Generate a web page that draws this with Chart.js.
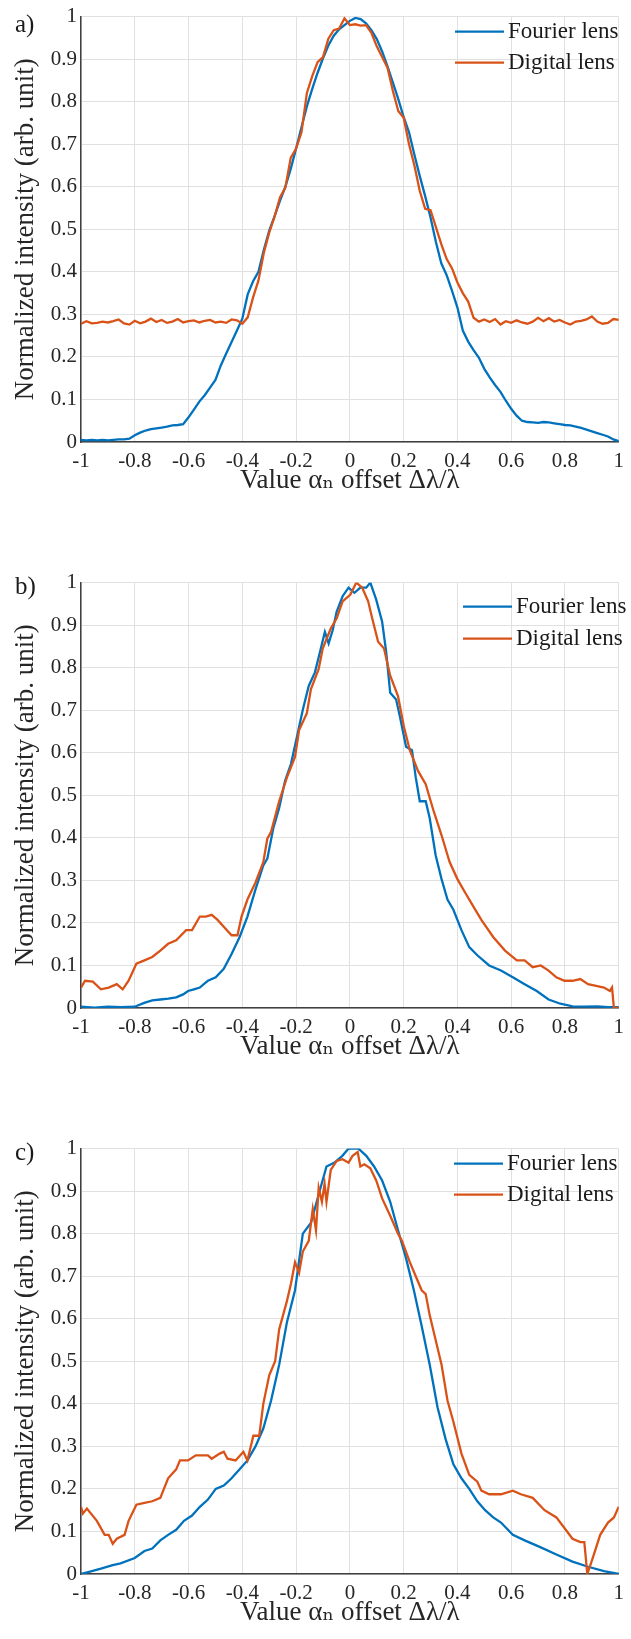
<!DOCTYPE html>
<html>
<head>
<meta charset="utf-8">
<title>Fourier lens vs Digital lens</title>
<script src="https://cdn.jsdelivr.net/npm/chart.js@4.4.1/dist/chart.umd.min.js"></script>
<style>
  html, body { margin: 0; padding: 0; background: #fff; overflow: hidden; }
  .panel { position: relative; width: 631px; height: 566px; }
  .panel canvas { position: absolute; left: 0; top: 0; }
  .tag { position: absolute; left: 15px; z-index: 2; font: 25px "Liberation Serif", serif; color: #1a1a1a; }
</style>
</head>
<body>
<div class="panel"><canvas id="chartA" width="631" height="566"></canvas><span class="tag" style="top:10px">a)</span></div>
<div class="panel"><canvas id="chartB" width="631" height="566"></canvas><span class="tag" style="top:6px">b)</span></div>
<div class="panel"><canvas id="chartC" width="631" height="566"></canvas><span class="tag" style="top:6px">c)</span></div>

<script>
// Panel a) - both curves sampled on the same grid
const xA = [-1, -0.98, -0.96, -0.94, -0.92, -0.9, -0.88, -0.86, -0.84, -0.82,
  -0.8, -0.78, -0.76, -0.74, -0.72, -0.7, -0.68, -0.66, -0.64, -0.62,
  -0.6, -0.58, -0.56, -0.54, -0.52, -0.5, -0.48, -0.46, -0.44, -0.42,
  -0.4, -0.38, -0.36, -0.34, -0.32, -0.3, -0.28, -0.26, -0.24, -0.22,
  -0.2, -0.18, -0.16, -0.14, -0.12, -0.1, -0.08, -0.06, -0.04, -0.02,
  0, 0.02, 0.04, 0.06, 0.08, 0.1, 0.12, 0.14, 0.16, 0.18,
  0.2, 0.22, 0.24, 0.26, 0.28, 0.3, 0.32, 0.34, 0.36, 0.38,
  0.4, 0.42, 0.44, 0.46, 0.48, 0.5, 0.52, 0.54, 0.56, 0.58,
  0.6, 0.62, 0.64, 0.66, 0.68, 0.7, 0.72, 0.74, 0.76, 0.78,
  0.8, 0.82, 0.84, 0.86, 0.88, 0.9, 0.92, 0.94, 0.96, 0.98, 1];
const fourierA = [0.005, 0.004, 0.005, 0.004, 0.005, 0.004, 0.005, 0.006, 0.006, 0.008,
  0.016, 0.022, 0.027, 0.030, 0.032, 0.034, 0.036, 0.039, 0.040, 0.042,
  0.058, 0.076, 0.095, 0.110, 0.128, 0.146, 0.180, 0.208, 0.235, 0.262,
  0.290, 0.347, 0.378, 0.400, 0.452, 0.497, 0.531, 0.567, 0.600, 0.642,
  0.690, 0.740, 0.789, 0.830, 0.868, 0.902, 0.932, 0.955, 0.970, 0.980,
  0.990, 0.997, 0.994, 0.984, 0.968, 0.947, 0.918, 0.883, 0.845, 0.806,
  0.764, 0.728, 0.675, 0.625, 0.578, 0.528, 0.470, 0.420, 0.392, 0.355,
  0.316, 0.262, 0.236, 0.216, 0.198, 0.172, 0.152, 0.134, 0.118, 0.097,
  0.078, 0.062, 0.050, 0.047, 0.046, 0.045, 0.047, 0.046, 0.044, 0.042,
  0.040, 0.039, 0.036, 0.033, 0.029, 0.025, 0.021, 0.017, 0.013, 0.006, 0.002];
const digitalA = [0.278, 0.284, 0.279, 0.280, 0.283, 0.281, 0.284, 0.288, 0.279, 0.276,
  0.285, 0.279, 0.283, 0.290, 0.282, 0.287, 0.280, 0.283, 0.289, 0.281,
  0.284, 0.286, 0.281, 0.285, 0.287, 0.281, 0.283, 0.280, 0.288, 0.286,
  0.278, 0.293, 0.340, 0.380, 0.445, 0.492, 0.530, 0.575, 0.598, 0.668,
  0.690, 0.728, 0.820, 0.860, 0.893, 0.905, 0.948, 0.968, 0.972, 0.996,
  0.980, 0.982, 0.979, 0.980, 0.962, 0.930, 0.905, 0.880, 0.825, 0.778,
  0.762, 0.700, 0.650, 0.590, 0.548, 0.545, 0.505, 0.465, 0.430, 0.408,
  0.375, 0.350, 0.330, 0.292, 0.283, 0.288, 0.282, 0.289, 0.276, 0.284,
  0.280, 0.286, 0.281, 0.278, 0.283, 0.292, 0.284, 0.291, 0.283, 0.287,
  0.281, 0.276, 0.283, 0.285, 0.288, 0.295, 0.283, 0.278, 0.280, 0.289, 0.287];

// Panel b)
const xFourierB = [-1, -0.95, -0.9, -0.85, -0.8, -0.765, -0.735, -0.705, -0.675, -0.646,
  -0.62, -0.602, -0.58, -0.558, -0.54, -0.528, -0.499, -0.469, -0.44, -0.41,
  -0.381, -0.351, -0.322, -0.307, -0.285, -0.263, -0.241, -0.219, -0.197, -0.175,
  -0.153, -0.13, -0.108, -0.093, -0.079, -0.064, -0.049, -0.027, -0.005, 0.017,
  0.039, 0.061, 0.076, 0.098, 0.12, 0.135, 0.15, 0.172, 0.186, 0.209,
  0.231, 0.245, 0.26, 0.282, 0.297, 0.319, 0.341, 0.363, 0.385, 0.415,
  0.444, 0.474, 0.518, 0.562, 0.606, 0.65, 0.695, 0.739, 0.783, 0.828,
  0.87, 0.92, 0.96, 1];
const fourierB = [0.003, 0.001, 0.003, 0.002, 0.003, 0.012, 0.018, 0.02, 0.022, 0.025,
  0.032, 0.04, 0.044, 0.048, 0.058, 0.064, 0.072, 0.092, 0.127, 0.167,
  0.215, 0.279, 0.335, 0.351, 0.422, 0.47, 0.534, 0.574, 0.637, 0.701,
  0.757, 0.789, 0.845, 0.884, 0.857, 0.888, 0.932, 0.968, 0.988, 0.976,
  0.988, 0.988, 1.0, 0.96, 0.908, 0.837, 0.741, 0.725, 0.685, 0.614,
  0.606, 0.542, 0.486, 0.486, 0.446, 0.359, 0.303, 0.255, 0.231, 0.183,
  0.143, 0.124, 0.1, 0.088, 0.072, 0.056, 0.04, 0.02, 0.01, 0.004,
  0.003, 0.004, 0.002, 0.002];
const xDigitalB = [-1, -0.985, -0.956, -0.926, -0.897, -0.867, -0.845, -0.823, -0.794, -0.764,
  -0.735, -0.705, -0.676, -0.646, -0.609, -0.587, -0.558, -0.536, -0.514, -0.492,
  -0.469, -0.44, -0.418, -0.403, -0.381, -0.351, -0.322, -0.307, -0.293, -0.263,
  -0.234, -0.204, -0.189, -0.16, -0.145, -0.116, -0.101, -0.071, -0.049, -0.027,
  0.002, 0.024, 0.046, 0.068, 0.083, 0.105, 0.127, 0.15, 0.179, 0.201,
  0.223, 0.253, 0.282, 0.312, 0.341, 0.371, 0.4, 0.429, 0.459, 0.489,
  0.533, 0.577, 0.621, 0.65, 0.68, 0.71, 0.739, 0.768, 0.798, 0.828,
  0.857, 0.886, 0.916, 0.945, 0.967, 0.975, 0.982, 1];
const digitalB = [0.048, 0.064, 0.062, 0.044, 0.048, 0.056, 0.044, 0.064, 0.104, 0.112,
  0.12, 0.135, 0.151, 0.159, 0.183, 0.183, 0.215, 0.215, 0.219, 0.207,
  0.191, 0.171, 0.171, 0.215, 0.255, 0.295, 0.343, 0.398, 0.414, 0.486,
  0.542, 0.59, 0.653, 0.693, 0.749, 0.797, 0.845, 0.892, 0.916, 0.956,
  0.972, 1.0, 0.988, 0.956, 0.916, 0.861, 0.845, 0.781, 0.733, 0.661,
  0.606, 0.558, 0.526, 0.462, 0.406, 0.343, 0.303, 0.271, 0.239, 0.207,
  0.167, 0.135, 0.112, 0.112, 0.096, 0.1, 0.088, 0.072, 0.064, 0.064,
  0.068, 0.056, 0.052, 0.048, 0.04, 0.048, 0.0, 0.0];

// Panel c)
const xFourierC = [-1, -0.963, -0.926, -0.882, -0.853, -0.8, -0.764, -0.735, -0.705, -0.676,
  -0.646, -0.617, -0.587, -0.558, -0.528, -0.499, -0.469, -0.44, -0.41, -0.381,
  -0.351, -0.322, -0.293, -0.263, -0.234, -0.204, -0.175, -0.145, -0.116, -0.087,
  -0.057, -0.028, -0.005, 0.032, 0.061, 0.09, 0.12, 0.15, 0.179, 0.209,
  0.238, 0.267, 0.297, 0.326, 0.356, 0.385, 0.415, 0.444, 0.474, 0.503,
  0.533, 0.562, 0.606, 0.65, 0.71, 0.768, 0.828, 0.886, 0.945, 1];
const fourierC = [0.0, 0.006, 0.0125, 0.021, 0.025, 0.0375, 0.054, 0.06, 0.079, 0.092,
  0.104, 0.125, 0.1375, 0.158, 0.175, 0.2, 0.208, 0.225, 0.246, 0.267,
  0.3, 0.342, 0.408, 0.492, 0.592, 0.667, 0.8, 0.825, 0.892, 0.958,
  0.967, 0.983, 1.0, 1.0, 0.983, 0.958, 0.925, 0.875, 0.808, 0.742,
  0.667, 0.583, 0.492, 0.392, 0.317, 0.258, 0.225, 0.2, 0.171, 0.15,
  0.133, 0.121, 0.092, 0.079, 0.0625, 0.046, 0.029, 0.017, 0.007, 0.0];
const xDigitalC = [-1, -0.993, -0.978, -0.941, -0.912, -0.897, -0.882, -0.867, -0.838, -0.823,
  -0.794, -0.764, -0.735, -0.705, -0.676, -0.646, -0.632, -0.602, -0.573, -0.528,
  -0.514, -0.484, -0.469, -0.455, -0.425, -0.396, -0.381, -0.359, -0.337, -0.322,
  -0.3, -0.278, -0.263, -0.234, -0.219, -0.204, -0.189, -0.175, -0.153, -0.138,
  -0.126, -0.116, -0.104, -0.094, -0.087, -0.071, -0.049, -0.027, -0.005, 0.01,
  0.029, 0.039, 0.054, 0.076, 0.098, 0.12, 0.15, 0.179, 0.194, 0.223,
  0.245, 0.267, 0.282, 0.297, 0.319, 0.341, 0.363, 0.385, 0.415, 0.444,
  0.474, 0.489, 0.518, 0.562, 0.606, 0.636, 0.68, 0.724, 0.768, 0.798,
  0.828, 0.857, 0.872, 0.883, 0.901, 0.931, 0.96, 0.982, 1];
const digitalC = [0.158, 0.142, 0.154, 0.125, 0.092, 0.092, 0.071, 0.083, 0.092, 0.125,
  0.163, 0.167, 0.171, 0.179, 0.225, 0.246, 0.267, 0.267, 0.279, 0.279,
  0.271, 0.283, 0.2875, 0.271, 0.267, 0.2875, 0.267, 0.325, 0.325, 0.4,
  0.467, 0.5, 0.575, 0.642, 0.683, 0.733, 0.708, 0.758, 0.783, 0.858,
  0.808, 0.908, 0.875, 0.917, 0.875, 0.95, 0.971, 0.975, 0.967, 0.983,
  0.992, 0.958, 0.963, 0.954, 0.925, 0.883, 0.842, 0.8, 0.783, 0.733,
  0.7, 0.667, 0.658, 0.608, 0.55, 0.492, 0.408, 0.358, 0.283, 0.233,
  0.217, 0.196, 0.1875, 0.1875, 0.196, 0.1875, 0.179, 0.15, 0.133, 0.108,
  0.083, 0.075, 0.075, 0.0, 0.033, 0.092, 0.121, 0.133, 0.158];

const SERIF = '"Liberation Serif", "DejaVu Serif", serif';
const TEXT = '#262626';
const BLUE = '#0072BD';
const ORANGE = '#D95319';

Chart.defaults.font.family = SERIF;

const toPoints = (xs, ys) => xs.map((x, i) => ({x: x, y: ys[i]}));
const fmt = v => String(+v.toFixed(1));

// legend drawn inside the plot, top-right, like the MATLAB one
const insideLegend = {
    id: 'insideLegend',
    afterDraw(chart, args, opts) {
        const {ctx, chartArea} = chart;
        ctx.save();
        ctx.font = '23px ' + SERIF;
        ctx.textBaseline = 'middle';
        chart.data.datasets.forEach((ds, i) => {
            const x = chartArea.left + opts.x;
            const y = chartArea.top + opts.y + i * opts.gap;
            ctx.strokeStyle = ds.borderColor;
            ctx.lineWidth = 2.3;
            ctx.beginPath();
            ctx.moveTo(x, y);
            ctx.lineTo(x + 49, y);
            ctx.stroke();
            ctx.fillStyle = '#1a1a1a';
            ctx.fillText(ds.label, x + 53, y);
        });
        ctx.restore();
    }
};

function makePanel(id, fourier, digital, legendPos) {
    return new Chart(document.getElementById(id), {
        type: 'line',
        data: {
            datasets: [{
                label: 'Fourier lens',
                data: fourier,
                borderColor: BLUE,
                backgroundColor: BLUE,
                borderWidth: 2.3,
                pointRadius: 0,
                tension: 0,
                order: 2
            }, {
                label: 'Digital lens',
                data: digital,
                borderColor: ORANGE,
                backgroundColor: ORANGE,
                borderWidth: 2.3,
                pointRadius: 0,
                tension: 0,
                order: 1
            }]
        },
        options: {
            responsive: false,
            animation: false,
            layout: { padding: { top: 16, right: 3, bottom: 69, left: 0 } },
            plugins: {
                legend: { display: false },
                tooltip: { enabled: false },
                insideLegend: legendPos
            },
            scales: {
                x: {
                    type: 'linear',
                    min: -1,
                    max: 1,
                    ticks: {
                        stepSize: 0.2,
                        color: TEXT,
                        padding: 7,
                        font: { family: SERIF, size: 21 },
                        callback: v => fmt(v)
                    },
                    grid: { color: '#e0e0e0', drawTicks: false },
                    border: { color: '#404040', width: 1.5 },
                    title: {
                        display: true,
                        text: 'Value αₙ offset Δλ/λ',
                        color: TEXT,
                        padding: 0,
                        font: { family: SERIF, size: 27 }
                    },
                    afterFit: s => { s.height = 55; }
                },
                y: {
                    min: 0,
                    max: 1,
                    ticks: {
                        stepSize: 0.1,
                        color: TEXT,
                        padding: 4,
                        font: { family: SERIF, size: 21 },
                        callback: v => fmt(v)
                    },
                    grid: { color: '#e0e0e0', drawTicks: false },
                    border: { color: '#404040', width: 1.5 },
                    title: {
                        display: true,
                        text: 'Normalized intensity (arb. unit)',
                        color: TEXT,
                        padding: { top: 10, bottom: 0 },
                        font: { family: SERIF, size: 27 }
                    },
                    afterFit: s => { s.width = 81; }
                }
            }
        },
        plugins: [insideLegend]
    });
}

makePanel('chartA', toPoints(xA, fourierA), toPoints(xA, digitalA), { x: 374, y: 15, gap: 31 });
makePanel('chartB', toPoints(xFourierB, fourierB), toPoints(xDigitalB, digitalB), { x: 382, y: 24, gap: 32 });
makePanel('chartC', toPoints(xFourierC, fourierC), toPoints(xDigitalC, digitalC), { x: 373, y: 15, gap: 31 });
</script>
</body>
</html>
